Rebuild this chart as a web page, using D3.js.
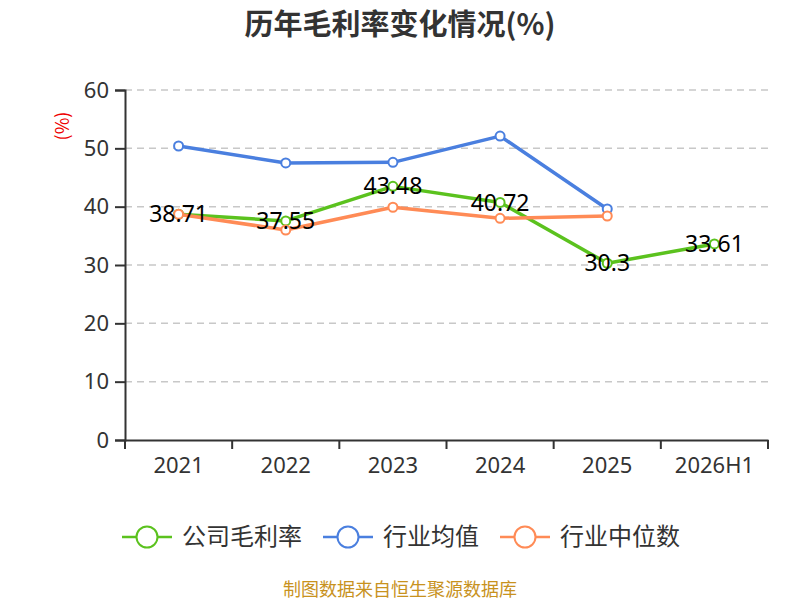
<!DOCTYPE html>
<html>
<head>
<meta charset="utf-8">
<script src="https://d3js.org/d3.v7.min.js"></script>
<style>
  body { margin: 0; background: #fff; font-family: 'Noto Sans CJK SC', 'Noto Sans', sans-serif; }
</style>
</head>
<body>
<div id="chart"></div>
<script>
// data
var categories = ["2021", "2022", "2023", "2024", "2025", "2026H1"];
var seriesNames = ["公司毛利率", "行业均值", "行业中位数"];
var companyValues = [38.71, 37.55, 43.48, 40.72, 30.3, 33.61];
var industryAvg = [50.4, 47.5, 47.6, 52.1, 39.6, null];
var industryMedian = [38.7, 36.0, 39.9, 38.0, 38.4, null];
var yTicks = [0, 10, 20, 30, 40, 50, 60];

var colors = ["#5bc21e", "#4a7fdf", "#ff8b56"];

var width = 800, height = 600;
var margin = {left: 125, right: 32, top: 90, bottom: 160};

var svg = d3.select("#chart").append("svg")
    .attr("width", width)
    .attr("height", height);

var x = d3.scaleBand()
    .domain(categories)
    .range([margin.left, width - margin.right]);

var y = d3.scaleLinear()
    .domain([0, 60])
    .range([height - margin.bottom, margin.top]);

//////////////////// title ////////////////////
svg.append("text")
    .attr("x", 400).attr("y", 35)
    .attr("text-anchor", "middle")
    .style("font-size", "29px")
    .style("font-weight", "bold")
    .style("fill", "#333")
    .text("历年毛利率变化情况(%)");

//////////////////// grid ////////////////////
svg.append("g").selectAll("line")
    .data(yTicks.filter(function(d) { return d > 0; }))
    .enter().append("line")
    .attr("x1", margin.left).attr("x2", width - margin.right)
    .attr("y1", function(d) { return y(d); })
    .attr("y2", function(d) { return y(d); })
    .style("stroke", "#c8c8c8")
    .style("stroke-width", 1.5)
    .style("stroke-dasharray", "7,5");

//////////////////// axes ////////////////////
var yAxis = svg.append("g")
    .attr("transform", "translate(" + margin.left + ",0)")
    .call(d3.axisLeft(y).tickValues(yTicks).tickSize(10).tickPadding(6));

var xAxis = svg.append("g")
    .attr("transform", "translate(0," + y(0) + ")")
    .call(d3.axisBottom(x).tickSize(0).tickPadding(14));

// ticks at band boundaries
var bounds = categories.map(function(c) { return x(c); }).concat([x.range()[1]]);
xAxis.selectAll("line.bound")
    .data(bounds)
    .enter().append("line")
    .attr("class", "bound")
    .attr("x1", function(d) { return d; }).attr("x2", function(d) { return d; })
    .attr("y1", 0).attr("y2", 9)
    .style("stroke", "#333").style("stroke-width", 2);

[yAxis, xAxis].forEach(function(g) {
    g.select(".domain").style("stroke", "#333").style("stroke-width", 2);
    g.selectAll(".tick line").style("stroke", "#333").style("stroke-width", 2);
    g.selectAll("text")
        .style("font-size", "22px")
        .style("fill", "#333")
        .style("font-family", "'Noto Sans', sans-serif");
});
xAxis.selectAll(".tick text").attr("dy", "0.85em");

svg.append("text")
    .attr("transform", "translate(63,126) rotate(-90)")
    .attr("dy", "0.35em")
    .attr("text-anchor", "middle")
    .style("font-size", "18px")
    .style("fill", "#e00")
    .text("(%)");

//////////////////// lines ////////////////////
var allSeries = [companyValues, industryAvg, industryMedian];
var line = d3.line()
    .defined(function(d) { return d != null; })
    .x(function(d, i) { return x(categories[i]) + x.bandwidth() / 2; })
    .y(function(d) { return y(d); });

var drawOrder = [1, 0, 2];
drawOrder.forEach(function(s) {
    var vals = allSeries[s];
    svg.append("path")
        .datum(vals)
        .attr("d", line)
        .style("fill", "none")
        .style("stroke", colors[s])
        .style("stroke-width", 3.5)
        .style("stroke-linejoin", "round");
    svg.append("g").selectAll("circle")
        .data(vals.map(function(v, i) { return {v: v, i: i}; }).filter(function(d) { return d.v != null; }))
        .enter().append("circle")
        .attr("cx", function(d) { return x(categories[d.i]) + x.bandwidth() / 2; })
        .attr("cy", function(d) { return y(d.v); })
        .attr("r", 4.5)
        .style("fill", "#fff")
        .style("stroke", colors[s])
        .style("stroke-width", 2);
});

// value labels for the company series
svg.append("g").selectAll("text")
    .data(companyValues)
    .enter().append("text")
    .attr("x", function(d, i) { return x(categories[i]) + x.bandwidth() / 2; })
    .attr("y", function(d) { return y(d); })
    .attr("dy", "0.35em")
    .attr("text-anchor", "middle")
    .style("font-size", "23px")
    .style("fill", "#000")
    .style("font-family", "'Noto Sans', sans-serif")
    .text(function(d) { return d; });

//////////////////// legend ////////////////////
var legendX = [122, 323, 500];
var legend = svg.append("g").selectAll("g")
    .data(seriesNames)
    .enter().append("g")
    .attr("transform", function(d, i) { return "translate(" + legendX[i] + ",537)"; });

legend.append("line")
    .attr("x1", 0).attr("x2", 50)
    .style("stroke", function(d, i) { return colors[i]; })
    .style("stroke-width", 2.5);
legend.append("circle")
    .attr("cx", 25).attr("r", 10.5)
    .style("fill", "#fff")
    .style("stroke", function(d, i) { return colors[i]; })
    .style("stroke-width", 2);
legend.append("text")
    .attr("x", 60).attr("dy", "0.35em")
    .style("font-size", "24px")
    .style("fill", "#333")
    .text(function(d) { return d; });

//////////////////// footer ////////////////////
svg.append("text")
    .attr("x", 400).attr("y", 596)
    .attr("text-anchor", "middle")
    .style("font-size", "18px")
    .style("fill", "#c8921e")
    .text("制图数据来自恒生聚源数据库");
</script>
</body>
</html>
